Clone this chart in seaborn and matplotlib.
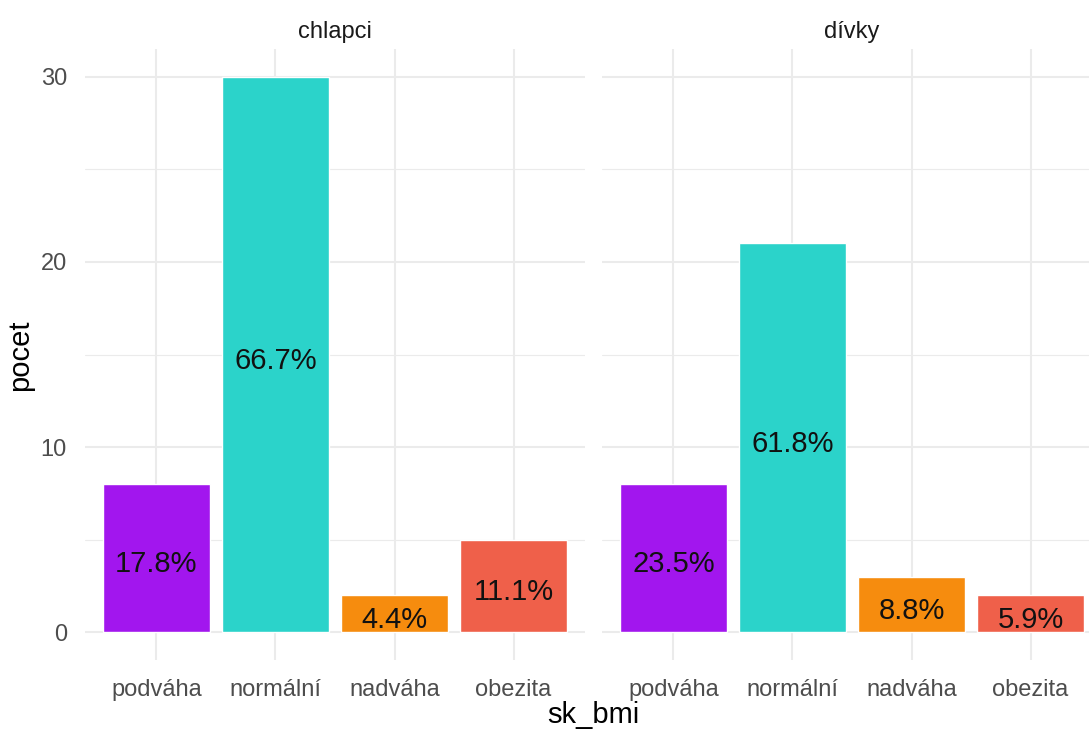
import numpy as np
import pandas as pd
import matplotlib
matplotlib.use("Agg")
import matplotlib.pyplot as plt
import seaborn as sns

categories = ["podváha", "normální", "nadváha", "obezita"]
groups = ["chlapci", "dívky"]
counts_chlapci = [8, 30, 2, 5]
counts_divky = [8, 21, 3, 2]
pct_chlapci = ["17.8%", "66.7%", "4.4%", "11.1%"]
pct_divky = ["23.5%", "61.8%", "8.8%", "5.9%"]
colors = ["#A216EE", "#2BD3CA", "#F68C0E", "#EF604A"]

sns.set_style("white")
plt.rcParams['font.family'] = ['Liberation Sans', 'DejaVu Sans']

fig = plt.figure(figsize=(10.89, 7.33), dpi=100)
W, H = 1089, 733
bottom = (H - 660) / H
height = (660 - 49) / H
ax1 = fig.add_axes([85 / W, bottom, 500 / W, height])
ax2 = fig.add_axes([602 / W, bottom, 500 / W, height])

panels = [(ax1, "chlapci", counts_chlapci, pct_chlapci),
          (ax2, "dívky", counts_divky, pct_divky)]

for ax, name, counts, pcts in panels:
    df = pd.DataFrame({"sk_bmi": categories, "pocet": counts})
    sns.barplot(data=df, x="sk_bmi", y="pocet", hue="sk_bmi",
                palette=colors, order=categories, hue_order=categories,
                width=0.9, legend=False, saturation=1, ax=ax, zorder=3)
    for cont, lab in zip(ax.containers, pcts):
        anns = ax.bar_label(cont, labels=[lab], label_type="center",
                            fontsize=21, color="#111111", zorder=4)
        for a in anns:
            a.xyann = (0, -4.5)
    ax.set_xlim(-0.6, 3.6)
    ax.set_ylim(-1.5, 31.5)
    ax.set_yticks([0, 10, 20, 30])
    ax.set_yticks([5, 15, 25], minor=True)
    ax.grid(True, which="major", color="#EBEBEB", lw=1.5, zorder=0)
    ax.grid(True, which="minor", axis="y", color="#EBEBEB", lw=0.8, zorder=0)
    ax.set_axisbelow(True)
    for s in ax.spines.values():
        s.set_visible(False)
    ax.tick_params(axis="both", which="both", length=0, labelsize=17,
                   labelcolor="#4D4D4D")
    ax.tick_params(axis="x", pad=14)
    ax.tick_params(axis="y", pad=13)
    ax.set_xlabel("")
    ax.set_ylabel("")
    ax.set_title(name, fontsize=17, color="#1A1A1A", pad=8)
    ax.patch.set_alpha(0)

ax2.tick_params(axis="y", labelleft=False)

fig.text(593 / W, (H - 715) / H, "sk_bmi", ha="center", va="center",
         fontsize=21, color="black")
fig.text(20 / W, (H - 355) / H, "pocet", ha="center", va="center",
         rotation=90, fontsize=21, color="black")

fig.savefig("out.png", dpi=100, facecolor="white")
